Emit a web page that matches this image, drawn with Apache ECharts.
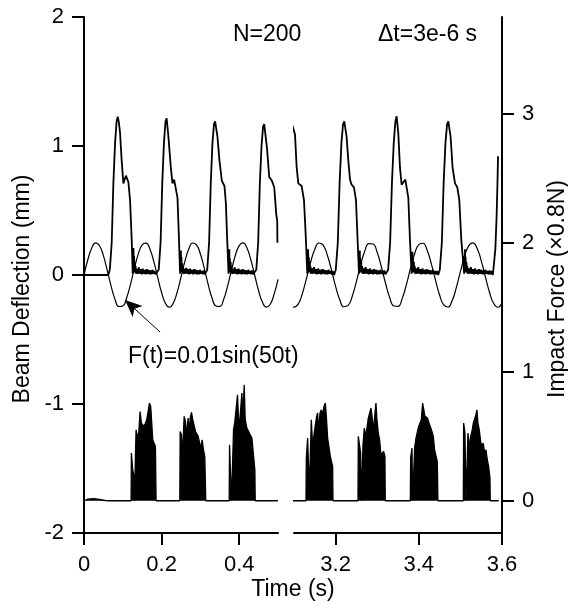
<!DOCTYPE html>
<html>
<head>
<meta charset="utf-8">
<script src="https://cdn.jsdelivr.net/npm/echarts@6/dist/echarts.min.js"></script>
<style>html,body{margin:0;padding:0;background:#fff}#c{width:568px;height:602px}</style>
</head>
<body>
<div id="c"></div>
<script>
// ---- tick labels ----
const xTicksLeft = [0, 0.2, 0.4];
const xTicksRight = [3.2, 3.4, 3.6];
const yTicksLeft = [-2, -1, 0, 1, 2];
const yTicksRight = [0, 1, 2, 3];

// ---- excitation F(t) drawn in deflection units (mm) ----
const sineLeft = [[0,0],[0.01,0.120],[0.02,0.210],[0.03,0.249],[0.04,0.227],[0.05,0.150],[0.06,0.035],[0.07,-0.088],[0.08,-0.189],[0.09,-0.244],[0.10,-0.240],[0.11,-0.176],[0.12,-0.070],[0.13,0.054],[0.14,0.164],[0.15,0.234],[0.16,0.247],[0.17,0.200],[0.18,0.103],[0.19,-0.019],[0.20,-0.136],[0.21,-0.220],[0.22,-0.250],[0.23,-0.219],[0.24,-0.134],[0.25,-0.017],[0.26,0.105],[0.27,0.201],[0.28,0.248],[0.29,0.234],[0.30,0.163],[0.31,0.052],[0.32,-0.072],[0.33,-0.178],[0.34,-0.240],[0.35,-0.244],[0.36,-0.188],[0.37,-0.086],[0.38,0.037],[0.39,0.151],[0.40,0.228],[0.41,0.249],[0.42,0.209],[0.43,0.118],[0.44,-0.002],[0.45,-0.122],[0.46,-0.212],[0.47,-0.249],[0.48,-0.227],[0.49,-0.148],[0.50,-0.033]];
const sineRight = [[3.09,-0.207],[3.10,-0.249],[3.11,-0.226],[3.12,-0.145],[3.13,-0.026],[3.14,0.100],[3.15,0.200],[3.16,0.248],[3.17,0.232],[3.18,0.155],[3.19,0.039],[3.20,-0.088],[3.21,-0.192],[3.22,-0.246],[3.23,-0.236],[3.24,-0.165],[3.25,-0.051],[3.26,0.076],[3.27,0.184],[3.28,0.243],[3.29,0.240],[3.30,0.174],[3.31,0.064],[3.32,-0.064],[3.33,-0.174],[3.34,-0.240],[3.35,-0.243],[3.36,-0.183],[3.37,-0.077],[3.38,0.051],[3.39,0.165],[3.40,0.236],[3.41,0.246],[3.42,0.192],[3.43,0.088],[3.44,-0.038],[3.45,-0.155],[3.46,-0.232],[3.47,-0.248],[3.48,-0.200],[3.49,-0.100],[3.50,0.026],[3.51,0.145],[3.52,0.226],[3.53,0.249],[3.54,0.208],[3.55,0.112],[3.56,-0.013],[3.57,-0.134],[3.58,-0.221],[3.59,-0.250],[3.60,-0.215]];

// ---- beam deflection (mm) ----
const deflLeft = [[0,0],[0.0625,0],[0.0665,0.04],[0.0714,0.25],[0.0757,0.71],[0.080,1.02],[0.084,1.19],[0.087,1.227],[0.090,1.18],[0.093,1.10],[0.097,0.89],[0.1015,0.71],[0.105,0.70],[0.108,0.77],[0.110,0.775],[0.1144,0.72],[0.1187,0.58],[0.123,0.27],[0.1255,0.01],
[0.1262,0.17],[0.1268,0.02],[0.1275,0.21],[0.1282,0.03],[0.1290,0.15],[0.1297,0.02],[0.1310,0.10],[0.1317,0.02],[0.1330,0.07],[0.1340,0.01],[0.1365,0.05],[0.139,0.01],[0.1415,0.06],[0.144,0.01],[0.1465,0.045],[0.149,0.005],[0.1515,0.05],[0.154,0.01],[0.1565,0.04],[0.159,0.005],[0.1615,0.045],[0.164,0.01],[0.1665,0.04],[0.169,0.005],[0.1715,0.035],[0.174,0.005],[0.1765,0.04],[0.179,0.01],[0.1815,0.03],[0.184,0.005],[0.1865,0.02],
[0.1885,0],[0.1925,0.04],[0.1974,0.25],[0.2017,0.71],[0.206,1.02],[0.210,1.19],[0.213,1.215],[0.2176,1.07],[0.2236,0.84],[0.228,0.71],[0.2323,0.74],[0.2374,0.75],[0.2409,0.60],[0.2443,0.32],[0.2477,0.01],
[0.2484,0.16],[0.2490,0.02],[0.2497,0.19],[0.2504,0.03],[0.2512,0.14],[0.2519,0.02],[0.2532,0.09],[0.2539,0.02],[0.2552,0.06],[0.2562,0.01],[0.2587,0.05],[0.2612,0.01],[0.2637,0.055],[0.2662,0.01],[0.2687,0.045],[0.2712,0.005],[0.2737,0.05],[0.2762,0.01],[0.2787,0.04],[0.2812,0.005],[0.2837,0.045],[0.2862,0.01],[0.2887,0.04],[0.2912,0.005],[0.2937,0.035],[0.2962,0.005],[0.2987,0.04],[0.3012,0.01],[0.3037,0.03],[0.3062,0.005],[0.3087,0.035],[0.3112,0.005],
[0.3135,0],[0.3175,0.04],[0.3224,0.25],[0.3267,0.71],[0.331,1.02],[0.335,1.17],[0.338,1.19],[0.344,1.07],[0.349,0.89],[0.3553,0.73],[0.362,0.69],[0.3656,0.56],[0.369,0.28],[0.3725,0.01],
[0.3732,0.15],[0.3738,0.02],[0.3745,0.20],[0.3752,0.03],[0.3760,0.13],[0.3767,0.02],[0.3780,0.10],[0.3787,0.02],[0.3800,0.07],[0.3810,0.01],[0.3835,0.05],[0.386,0.01],[0.3885,0.06],[0.391,0.01],[0.3935,0.045],[0.396,0.005],[0.3985,0.05],[0.401,0.01],[0.4035,0.04],[0.406,0.005],[0.4085,0.045],[0.411,0.01],[0.4135,0.04],[0.416,0.005],[0.4185,0.035],[0.421,0.005],[0.4235,0.04],[0.426,0.01],[0.4285,0.03],[0.431,0.005],[0.4335,0.035],[0.436,0.005],[0.4385,0.02],
[0.4400,0],[0.444,0.04],[0.4489,0.25],[0.4532,0.71],[0.4575,1.0],[0.4615,1.15],[0.4645,1.17],[0.4714,0.99],[0.4774,0.76],[0.4843,0.73],[0.4903,0.68],[0.4955,0.47],[0.498,0.42],[0.4985,0.25]];

const deflRight = [[3.0904,1.05],[3.0906,1.15],[3.0935,1.19],[3.0966,1.2],[3.1024,1.09],[3.1063,0.84],[3.1103,0.71],[3.1183,0.69],[3.124,0.58],[3.128,0.32],[3.132,0.01],
[3.1327,0.16],[3.1333,0.02],[3.1340,0.20],[3.1347,0.03],[3.1355,0.14],[3.1362,0.02],[3.1375,0.11],[3.1382,0.02],[3.1395,0.07],[3.1405,0.01],[3.143,0.05],[3.1455,0.01],[3.148,0.06],[3.1505,0.01],[3.153,0.045],[3.1555,0.005],[3.158,0.05],[3.1605,0.01],[3.163,0.04],[3.1655,0.005],[3.168,0.045],[3.1705,0.01],[3.173,0.04],[3.1755,0.005],[3.178,0.035],[3.1805,0.005],[3.183,0.04],[3.1855,0.01],[3.188,0.03],[3.1905,0.005],[3.193,0.03],
[3.1964,0],[3.2004,0.04],[3.2053,0.25],[3.2096,0.71],[3.2139,1.02],[3.2179,1.17],[3.2209,1.19],[3.2265,1.07],[3.2305,0.89],[3.2346,0.74],[3.2385,0.70],[3.2442,0.68],[3.249,0.58],[3.2529,0.27],[3.2562,0.01],
[3.2569,0.15],[3.2575,0.02],[3.2582,0.19],[3.2589,0.03],[3.2597,0.13],[3.2604,0.02],[3.2617,0.10],[3.2624,0.02],[3.2637,0.07],[3.2647,0.01],[3.2672,0.05],[3.2697,0.01],[3.2722,0.06],[3.2747,0.01],[3.2772,0.045],[3.2797,0.005],[3.2822,0.05],[3.2847,0.01],[3.2872,0.04],[3.2897,0.005],[3.2922,0.045],[3.2947,0.01],[3.2972,0.04],[3.2997,0.005],[3.3022,0.035],[3.3047,0.005],[3.3072,0.04],[3.3097,0.01],[3.3122,0.03],[3.3147,0.005],[3.3172,0.035],[3.3197,0.005],
[3.3222,0],[3.3262,0.04],[3.3311,0.25],[3.3354,0.71],[3.3397,1.02],[3.3437,1.19],[3.3467,1.23],[3.3507,1.1],[3.3548,0.83],[3.3587,0.70],[3.3627,0.71],[3.3676,0.74],[3.3708,0.74],[3.3748,0.60],[3.3788,0.27],[3.3827,0.01],
[3.3834,0.16],[3.3840,0.02],[3.3847,0.18],[3.3854,0.03],[3.3862,0.14],[3.3869,0.02],[3.3882,0.10],[3.3889,0.02],[3.3902,0.07],[3.3912,0.01],[3.3937,0.05],[3.3962,0.01],[3.3987,0.06],[3.4012,0.01],[3.4037,0.045],[3.4062,0.005],[3.4087,0.05],[3.4112,0.01],[3.4137,0.04],[3.4162,0.005],[3.4187,0.045],[3.4212,0.01],[3.4237,0.04],[3.4262,0.005],[3.4287,0.035],[3.4312,0.005],[3.4337,0.04],[3.4362,0.01],[3.4387,0.03],[3.4412,0.005],[3.4437,0.03],
[3.4465,0],[3.4505,0.04],[3.4554,0.25],[3.4597,0.71],[3.464,1.02],[3.468,1.17],[3.471,1.19],[3.4765,1.07],[3.4813,0.83],[3.487,0.71],[3.4926,0.68],[3.4974,0.58],[3.5022,0.27],[3.509,0.01],
[3.5097,0.15],[3.5103,0.02],[3.5110,0.20],[3.5117,0.03],[3.5125,0.14],[3.5132,0.02],[3.5145,0.10],[3.5152,0.02],[3.5165,0.07],[3.5175,0.01],[3.52,0.05],[3.5225,0.01],[3.525,0.06],[3.5275,0.01],[3.53,0.045],[3.5325,0.005],[3.535,0.05],[3.5375,0.01],[3.54,0.04],[3.5425,0.005],[3.545,0.045],[3.5475,0.01],[3.55,0.04],[3.5525,0.005],[3.555,0.035],[3.5575,0.005],[3.56,0.04],[3.5625,0.01],[3.565,0.03],[3.5675,0.005],[3.57,0.035],[3.5725,0.005],[3.575,0.03],
[3.578,0],[3.584,0.2],[3.587,0.45],[3.589,0.7],[3.5905,0.92]];

// ---- impact force (x0.8 N), burst envelopes ----
const forceLeft = [[0,0],[0.01,0.012],[0.025,0.016],[0.04,0.01],[0.055,0.002],[0.065,0],
[0.1213,0],[0.1222,0.370],[0.1256,0.240],[0.1290,0.189],[0.1299,0],[0.1333,0],[0.1342,0.550],[0.1376,0.499],[0.1411,0.525],[0.1445,0.692],[0.1462,0.705],[0.1480,0.602],[0.1514,0.615],[0.1548,0.576],[0.1583,0.602],[0.1617,0.628],[0.1651,0.692],[0.1686,0.757],[0.1720,0.731],[0.1746,0.602],[0.1772,0.473],[0.1806,0.447],[0.1841,0.421],[0.1858,0],
[0.2469,0],[0.2478,0.537],[0.2512,0.512],[0.2538,0.344],[0.2581,0.654],[0.2615,0.615],[0.2649,0.512],[0.2684,0.641],[0.2710,0.512],[0.2736,0.641],[0.2770,0.685],[0.2804,0.628],[0.2839,0.641],[0.2873,0.537],[0.2907,0.525],[0.2942,0.499],[0.2976,0.512],[0.3010,0.408],[0.3045,0.473],[0.3079,0.395],[0.3113,0.344],[0.3139,0],
[0.3742,0],[0.3751,0.434],[0.3785,0.434],[0.3802,0],[0.3837,0],[0.3854,0.550],[0.3888,0.615],[0.3923,0.628],[0.3957,0.822],[0.3983,0.628],[0.4009,0.602],[0.4043,0.731],[0.4069,0.835],[0.4095,0.654],[0.4129,0.899],[0.4155,0.628],[0.4198,0.563],[0.4241,0.550],[0.4284,0.512],[0.4327,0.486],[0.4370,0.473],[0.4404,0.240],[0.4413,0],
[0.5,0]];

const forceRight = [[3.0894,0],
[3.1288,0],[3.1296,0.331],[3.1328,0.486],[3.1352,0.240],[3.1384,0.266],[3.1416,0.628],[3.1448,0.421],[3.1480,0.512],[3.1512,0.525],[3.1544,0.654],[3.1568,0.680],[3.1592,0.537],[3.1625,0.680],[3.1657,0.705],[3.1689,0.667],[3.1721,0.731],[3.1753,0.757],[3.1777,0.654],[3.1809,0.486],[3.1841,0.473],[3.1873,0.344],[3.1905,0.331],[3.1929,0.266],[3.1937,0],
[3.2538,0],[3.2546,0.499],[3.2570,0.512],[3.2602,0.370],[3.2626,0],[3.2650,0],[3.2658,0.434],[3.2690,0.563],[3.2722,0.499],[3.2754,0.563],[3.2786,0.641],[3.2818,0.654],[3.2850,0.718],[3.2882,0.641],[3.2914,0.537],[3.2946,0.680],[3.2970,0.757],[3.2994,0.628],[3.3026,0.525],[3.3058,0.473],[3.3090,0.357],[3.3122,0.370],[3.3154,0.383],[3.3186,0.344],[3.3194,0],
[3.3796,0],[3.3804,0.331],[3.3836,0.408],[3.3852,0],[3.3892,0],[3.3900,0.408],[3.3932,0.486],[3.3964,0.499],[3.3996,0.576],[3.4028,0.576],[3.4060,0.628],[3.4092,0.757],[3.4116,0.744],[3.4148,0.654],[3.4180,0.667],[3.4212,0.641],[3.4244,0.602],[3.4276,0.576],[3.4316,0.537],[3.4348,0.499],[3.4380,0.395],[3.4412,0.383],[3.4444,0.305],[3.4460,0],
[3.5070,0],[3.5078,0.602],[3.5110,0.525],[3.5134,0],[3.5174,0],[3.5182,0.525],[3.5214,0.408],[3.5246,0.499],[3.5278,0.537],[3.5310,0.602],[3.5342,0.589],[3.5374,0.667],[3.5398,0.705],[3.5422,0.602],[3.5454,0.550],[3.5486,0.460],[3.5518,0.421],[3.5550,0.447],[3.5582,0.370],[3.5614,0.395],[3.5646,0.318],[3.5678,0.266],[3.5710,0.180],[3.5718,0],
[3.592,0]];

// ---- annotation arrow (data coords: time, deflection) ----
const arrowFrom = [0.196, -0.442];
const arrowTo = [0.1058, -0.194];

const FONT = '"Liberation Sans", Arial, Helvetica, sans-serif';
const BLACK = '#000';

const axisLineStyle = {show: true, onZero: false, lineStyle: {color: BLACK, width: 2}};
const tickStyle = (vals) => ({show: true, inside: false, length: 12, lineStyle: {color: BLACK, width: 2}, customValues: vals});
const labelStyle = (vals, margin) => ({show: true, color: BLACK, fontSize: 22, fontFamily: FONT, margin: margin, customValues: vals});

const chart = echarts.init(document.getElementById('c'), null, {renderer: 'canvas'});

chart.setOption({
  animation: false,
  backgroundColor: '#fff',
  grid: [
    {left: 84, top: 17, width: 194, height: 516},
    {left: 294, top: 17, width: 208, height: 516}
  ],
  xAxis: [
    {gridIndex: 0, type: 'value', position: 'bottom', min: 0, max: 0.5, axisLine: axisLineStyle,
     axisTick: tickStyle(xTicksLeft), axisLabel: labelStyle(xTicksLeft, 21), splitLine: {show: false}},
    {gridIndex: 1, type: 'value', position: 'bottom', min: 3.1, max: 3.6, axisLine: axisLineStyle,
     axisTick: tickStyle(xTicksRight), axisLabel: labelStyle(xTicksRight, 21), splitLine: {show: false}}
  ],
  yAxis: [
    {gridIndex: 0, type: 'value', position: 'left', min: -2, max: 2, interval: 1,
     axisLine: axisLineStyle, axisTick: tickStyle(yTicksLeft), axisLabel: labelStyle(yTicksLeft, 20), splitLine: {show: false}},
    {gridIndex: 0, type: 'value', show: false, min: -0.25, max: 3.75},
    {gridIndex: 1, type: 'value', position: 'right', min: -0.25, max: 3.75,
     axisLine: axisLineStyle, axisTick: tickStyle(yTicksRight), axisLabel: labelStyle(yTicksRight, 20), splitLine: {show: false}},
    {gridIndex: 1, type: 'value', show: false, min: -2, max: 2}
  ],
  series: [
    {type: 'line', name: 'F(t) left', xAxisIndex: 0, yAxisIndex: 0, data: sineLeft, smooth: true, showSymbol: false, symbol: 'none',
     lineStyle: {color: BLACK, width: 1.2},
     markLine: {silent: true, symbol: ['none', 'arrow'], symbolSize: [11, 17], animation: false,
       lineStyle: {color: BLACK, width: 1, type: 'solid'}, label: {show: false},
       data: [[{coord: arrowFrom}, {coord: arrowTo}]]}},
    {type: 'line', name: 'Deflection left', xAxisIndex: 0, yAxisIndex: 0, data: deflLeft, showSymbol: false, symbol: 'none',
     lineStyle: {color: BLACK, width: 1.8}},
    {type: 'line', name: 'Force left', xAxisIndex: 0, yAxisIndex: 1, data: forceLeft, showSymbol: false, symbol: 'none',
     lineStyle: {color: BLACK, width: 1.3}, areaStyle: {color: BLACK, opacity: 1}},
    {type: 'line', name: 'F(t) right', xAxisIndex: 1, yAxisIndex: 3, data: sineRight, smooth: true, showSymbol: false, symbol: 'none', clip: false,
     lineStyle: {color: BLACK, width: 1.2}},
    {type: 'line', name: 'Deflection right', xAxisIndex: 1, yAxisIndex: 3, data: deflRight, showSymbol: false, symbol: 'none', clip: false,
     lineStyle: {color: BLACK, width: 1.8}},
    {type: 'line', name: 'Force right', xAxisIndex: 1, yAxisIndex: 2, data: forceRight, showSymbol: false, symbol: 'none', clip: false,
     lineStyle: {color: BLACK, width: 1.3}, areaStyle: {color: BLACK, opacity: 1}}
  ],
  graphic: [
    {type: 'text', x: 233, y: 35, style: {text: 'N=200', fill: BLACK, font: '23px ' + FONT, align: 'left', verticalAlign: 'middle'}},
    {type: 'text', x: 378, y: 35, style: {text: 'Δt=3e-6 s', fill: BLACK, font: '23px ' + FONT, align: 'left', verticalAlign: 'middle'}},
    {type: 'text', x: 128, y: 357, style: {text: 'F(t)=0.01sin(50t)', fill: BLACK, font: '23px ' + FONT, align: 'left', verticalAlign: 'middle'}},
    {type: 'text', x: 293, y: 590, style: {text: 'Time (s)', fill: BLACK, font: '23px ' + FONT, align: 'center', verticalAlign: 'middle'}},
    {type: 'text', x: 23, y: 289, rotation: Math.PI / 2, style: {text: 'Beam Deflection (mm)', fill: BLACK, font: '23px ' + FONT, align: 'center', verticalAlign: 'middle'}},
    {type: 'text', x: 558, y: 289, rotation: Math.PI / 2, style: {text: 'Impact Force (×0.8N)', fill: BLACK, font: '23px ' + FONT, align: 'center', verticalAlign: 'middle'}}
  ]
});
</script>
</body>
</html>
